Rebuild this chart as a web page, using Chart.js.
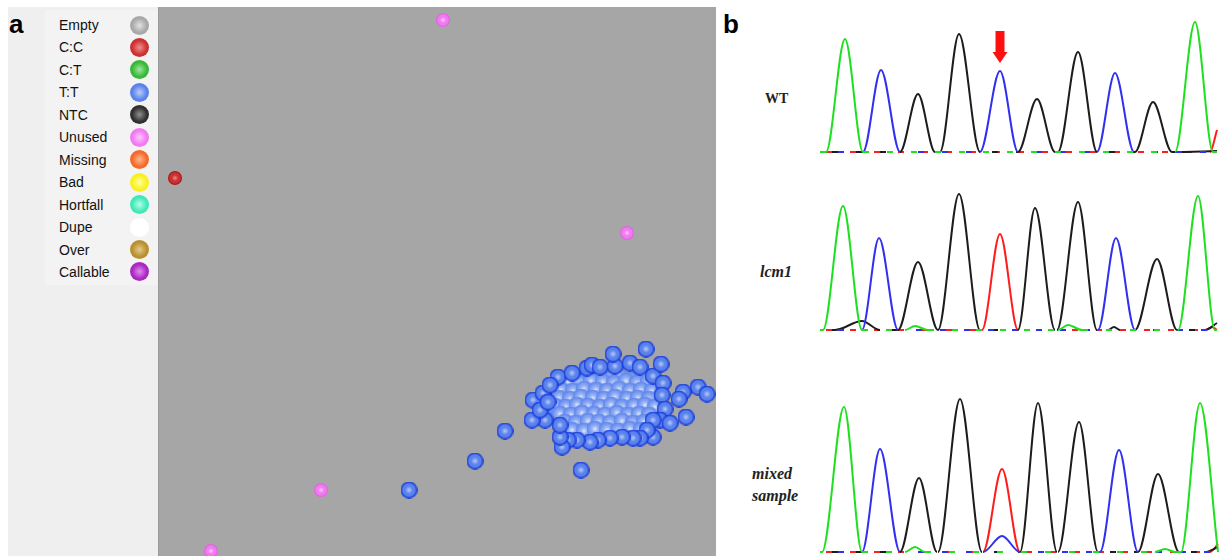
<!DOCTYPE html>
<html><head><meta charset="utf-8">
<script src="https://cdn.jsdelivr.net/npm/chart.js@4.4.1/dist/chart.umd.min.js"></script>
<style>
html,body{margin:0;padding:0;background:#fff;}
#wrap{position:relative;width:1222px;height:556px;overflow:hidden;background:#fff;font-family:"Liberation Sans",Arial,sans-serif;}
.abs{position:absolute;}
#leftbg{left:8px;top:7px;width:150px;height:549px;background:#efefef;}
#legbox{left:45px;top:10px;width:113px;height:275px;background:#f3f3f3;}
.panel{font-weight:bold;font-size:26px;line-height:26px;color:#000;}
.leg{font-size:14px;line-height:22px;color:#111;left:59px;}
.dot{width:19px;height:19px;border-radius:50%;}
.lab{font-family:"Liberation Serif","Times New Roman",serif;font-weight:bold;color:#222;}
</style></head>
<body><div id="wrap">
<div id="leftbg" class="abs"></div>
<div id="legbox" class="abs"></div>
<div class="abs panel" style="left:9px;top:11px;">a</div>
<div class="abs panel" style="left:723px;top:11px;">b</div>
<div class="abs" style="left:158px;top:7px;width:558px;height:549px;background:#a6a6a6;border-left:1px solid #9a9a9a;box-sizing:border-box;"></div>
<canvas id="scatter" class="abs" width="558" height="549" style="left:158px;top:7px;"></canvas>
<div id="legend"></div>
<canvas id="wt" class="abs" width="400" height="148" style="left:820px;top:10px;"></canvas>
<canvas id="lcm" class="abs" width="400" height="156" style="left:820px;top:180px;"></canvas>
<canvas id="mix" class="abs" width="400" height="176" style="left:820px;top:380px;"></canvas>
<div class="abs lab" style="left:765px;top:90px;font-size:14px;line-height:18px;">WT</div>
<div class="abs lab" style="left:760px;top:262px;font-size:16px;line-height:20px;font-style:italic;">lcm1</div>
<div class="abs lab" style="left:752px;top:463px;font-size:16px;line-height:22px;font-style:italic;">mixed<br>sample</div>
</div>
<script>
// ---------- Panel a data (allele intensity units) ----------
const categories = ['Empty','C:C','C:T','T:T','NTC','Unused','Missing','Bad','Hortfall','Dupe','Over','Callable'];
const ccPoints = [[17,378]];
const unusedPoints = [[285,536],[469,323],[163,66],[53,5]];
const ttOutliers = [[251,66],[317,95],[347,125],[423,86],[455,202],[488,207],[503,192],[540,169],[549,162],[525,164],[521,157],[528,139],[512,133]];
const ttEdge = [[400,179],[414,183],[429,188],[434,191],[442,189],[457,190],[472,193],[482,189],[495,180],[505,173],[504,161],[507,147],[502,136],[495,136],[495,119],[489,126],[482,118],[475,118],[464,119],[452,118],[440,116],[432,114],[419,116],[410,116],[404,109],[402,119],[402,131],[387,136],[374,136],[375,156],[385,163],[382,146],[392,171],[390,154]];
const ttCore = [
 [405,177],[416,179],[428,176],[439,180],[451,177],[462,179],[473,176],[485,178],[494,175],
 [399,170],[410,168],[421,171],[433,169],[444,172],[456,169],[467,171],[478,168],[489,170],[500,167],
 [395,162],[406,160],[417,163],[428,161],[440,163],[451,160],[463,162],[474,160],[485,163],[496,161],
 [398,154],[409,156],[421,153],[432,155],[443,152],[455,155],[466,153],[477,156],[489,153],[499,155],
 [393,146],[404,144],[415,147],[427,145],[438,147],[449,144],[461,146],[472,145],[484,147],[495,144],
 [398,138],[410,140],[421,137],[432,139],[444,137],[455,139],[467,137],[478,139],[489,137],
 [405,130],[416,128],[427,131],[439,129],[450,131],[461,128],[473,130],[484,129],[492,131],
 [411,123],[423,121],[434,124],[446,122],[457,124],[469,121],[480,123]
];
const ttCoreDense = [
 [410,174],[422,173],[433,175],[445,174],[456,173],[468,175],[479,173],[490,174],
 [403,166],[415,165],[426,167],[438,166],[449,165],[461,167],[472,165],[483,166],[494,165],
 [401,158],[412,157],[423,159],[435,158],[446,157],[457,159],[469,157],[480,158],[491,157],
 [397,150],[408,149],[419,151],[430,150],[442,149],[453,151],[464,149],[476,150],[487,151],[497,149],
 [402,142],[413,141],[424,143],[436,142],[447,141],[459,143],[470,141],[481,142],[491,141],
 [407,134],[418,133],[430,135],[441,134],[452,133],[464,135],[475,133],[486,134],
 [414,126],[426,125],[437,127],[449,126],[460,125],[472,127],[483,126]
];
const ttPoints = ttCore.concat(ttCoreDense, ttEdge, ttOutliers);
const xRange = [0,558], yRange = [0,549];

// ---------- Panel b data (chromatogram signal, scan position vs. intensity) ----------
const wtGreen = [[0,0],[6,0],[25,113],[43,0],[355,0],[375,130],[393,0],[397,0]];
const wtBlue  = [[0,0],[43,0],[61,82],[80,0],[160,0],[180,81],[198,0],[277,0],[295,79],[314,0],[397,0]];
const wtBlack = [[0,0],[80,0],[98,58],[115,0],[120,0],[139,118],[160,0],[198,0],[217,53],[235,0],[238,0],[258,100],[277,0],[315,0],[333,50],[352,0],[397,1]];
const wtRed   = [[0,0],[390,0],[397,22]];

const lcmGreen = [[0,0],[3,0],[23,124],[42,0],[85,0],[95,4],[108,0],[238,0],[248,5],[262,0],[358,0],[378,134],[395,0],[397,0]];
const lcmBlue  = [[0,0],[42,0],[59,92],[78,0],[278,0],[296,92],[315,0],[397,0]];
const lcmBlack = [[0,0],[15,0],[42,9],[60,0],[78,0],[98,68],[118,0],[139,136],[160,0],[198,0],[215,122],[235,0],[237,0],[258,128],[277,0],[288,0],[294,3],[300,0],[315,0],[337,71],[357,0],[385,0],[397,7]];
const lcmRed   = [[0,0],[162,0],[180,96],[198,0],[385,0],[392,3],[397,0]];

const mixGreen = [[0,0],[2,0],[24,145],[42,0],[85,0],[95,5],[105,0],[335,0],[345,3],[355,0],[361,0],[380,149],[398,0]];
const mixBlue  = [[0,0],[42,0],[60,103],[80,0],[163,0],[182,16],[200,0],[280,0],[299,102],[318,0],[398,0]];
const mixBlack = [[0,0],[80,0],[99,74],[117,0],[118,0],[140,153],[162,0],[200,0],[218,149],[237,0],[238,0],[259,130],[278,0],[318,0],[338,78],[359,0],[385,0],[398,5]];
const mixRed   = [[0,0],[163,0],[182,83],[200,0],[390,0],[398,8]];

const arrowMark = {x:180, top:121, tip:89};

// ---------- styles ----------
const catStyle = {
 'Empty':['#e2e2e2','#a8a8a8','#888888'],
 'C:C':['#ee9090','#cc3030','#a81818'],
 'C:T':['#a0e8a0','#38b838','#1e901e'],
 'T:T':['#bccdf8','#5a82ec','#1638dc'],
 'NTC':['#909090','#303030','#0c0c0c'],
 'Unused':['#ffc4ff','#f07af0','#e462e4'],
 'Missing':['#ffb890','#f46a2a','#e05010'],
 'Bad':['#ffffa0','#f8f020','#e6de00'],
 'Hortfall':['#b0ffe8','#40e8b8','#20cfa0'],
 'Dupe':['#ffffff','#ffffff','#f2f2f2'],
 'Over':['#e4cc88','#b89030','#987018'],
 'Callable':['#e48af4','#a828c0','#8010a0']
};
function sphereFrom(stops, d){
  const c = document.createElement('canvas'); c.width = d; c.height = d;
  const g = c.getContext('2d');
  const gr = g.createRadialGradient(d*0.5,d*0.5,0,d/2,d/2,d/2);
  stops.forEach(s => gr.addColorStop(s[0], s[1]));
  g.fillStyle = gr; g.beginPath(); g.arc(d/2,d/2,d/2,0,Math.PI*2); g.fill();
  return c;
}
function sphere(name, d){
  const s = catStyle[name];
  return sphereFrom([[0,s[0]],[0.45,s[1]],[0.75,s[1]],[0.88,s[2]],[1,s[2]]], d);
}
// softer variant used where T:T points overlap densely in the cluster interior
const ttInner = sphereFrom([[0,'#e4ecfd'],[0.35,'#9ab4f4'],[0.75,'#7396ef'],[1,'#5a80ec']], 17);

const toXY = a => a.map(p => ({x:p[0], y:p[1]}));
const pointsFor = {'C:C':ccPoints,'T:T':ttPoints,'Unused':unusedPoints};
const sizeFor = {'C:C':14,'T:T':17,'Unused':14};
const ttInnerEnd = ttCore.length + ttCoreDense.length;

const scatterSets = categories.map(name => {
  const base = sphere(name, sizeFor[name] || 14);
  return {
    label:name,
    data: toXY(pointsFor[name] || []),
    pointStyle: name === 'T:T' ? (ctx => ctx.dataIndex < ttInnerEnd ? ttInner : base) : base,
    pointRadius: 8,
    backgroundColor: catStyle[name][1],
    borderColor: catStyle[name][2]
  };
});

const scatter = new Chart(document.getElementById('scatter'), {
  type:'scatter',
  data:{datasets:scatterSets},
  options:{
    responsive:false, animation:false, devicePixelRatio:1,
    layout:{padding:0, autoPadding:false},
    plugins:{legend:{display:false}, tooltip:{enabled:false}},
    scales:{
      x:{type:'linear', display:false, min:xRange[0], max:xRange[1]},
      y:{type:'linear', display:false, min:yRange[0], max:yRange[1]}
    }
  }
});

// HTML legend built from the chart's datasets
const legendEl = document.getElementById('legend');
scatter.data.datasets.forEach((ds, i) => {
  const cy = 25 + i*22.45;
  const t = document.createElement('div');
  t.className = 'abs leg'; t.style.top = (cy-11)+'px'; t.textContent = ds.label;
  legendEl.appendChild(t);
  const s = catStyle[ds.label];
  const d = document.createElement('div');
  d.className = 'abs dot';
  d.style.left = '129.5px'; d.style.top = (cy-9.5)+'px';
  d.style.background = `radial-gradient(circle at 50% 50%, ${s[0]} 0%, ${s[1]} 55%, ${s[1]} 80%, ${s[2]} 100%)`;
  legendEl.appendChild(d);
});

// ---------- chromatograms ----------
const traceColors = {green:'#1ee01e', blue:'#3030f0', black:'#1c1c1c', red:'#ff1c1c'};
const isBase = ctx => ctx.p0.parsed.y === 0 && ctx.p1.parsed.y === 0;
function trace(label, arr, color, k){
  return {label, data: toXY(arr), borderColor: color, borderWidth: 2, pointRadius: 0,
          cubicInterpolationMode:'monotone', fill:false,
          segment:{
            borderDash: ctx => isBase(ctx) ? [6,18] : undefined,
            borderDashOffset: ctx => isBase(ctx) ? k*6 : undefined
          }};
}
const arrowPlugin = {
  id:'arrow',
  afterDatasetsDraw(chart){
    if (!chart.options.plugins.arrow || !chart.options.plugins.arrow.show) return;
    const c = chart.ctx, xs = chart.scales.x, ys = chart.scales.y;
    const x = xs.getPixelForValue(arrowMark.x);
    const yt = ys.getPixelForValue(arrowMark.top);
    const yp = ys.getPixelForValue(arrowMark.tip);
    c.save(); c.fillStyle = '#ff1010';
    c.fillRect(x-4.5, yt, 9, (yp-yt)-10);
    c.beginPath(); c.moveTo(x-7.5, yp-11); c.lineTo(x+7.5, yp-11); c.lineTo(x, yp); c.closePath(); c.fill();
    c.restore();
  }
};
function chromo(id, g, b, k, r, ymin, ymax, arrow){
  return new Chart(document.getElementById(id), {
    type:'line',
    data:{datasets:[trace('G',g,traceColors.green,0), trace('A',b,traceColors.blue,1), trace('T',k,traceColors.black,2), trace('C',r,traceColors.red,3)]},
    options:{
      responsive:false, animation:false, devicePixelRatio:1,
      layout:{padding:0, autoPadding:false},
      plugins:{legend:{display:false}, tooltip:{enabled:false}, arrow:{show:!!arrow}},
      datasets:{line:{clip:false}},
      scales:{
        x:{type:'linear', display:false, min:0, max:400},
        y:{type:'linear', display:false, min:ymin, max:ymax}
      }
    },
    plugins:[arrowPlugin]
  });
}
chromo('wt', wtGreen, wtBlue, wtBlack, wtRed, -6, 142, true);
chromo('lcm', lcmGreen, lcmBlue, lcmBlack, lcmRed, -6, 150, false);
chromo('mix', mixGreen, mixBlue, mixBlack, mixRed, -4, 172, false);
</script>
</body></html>
